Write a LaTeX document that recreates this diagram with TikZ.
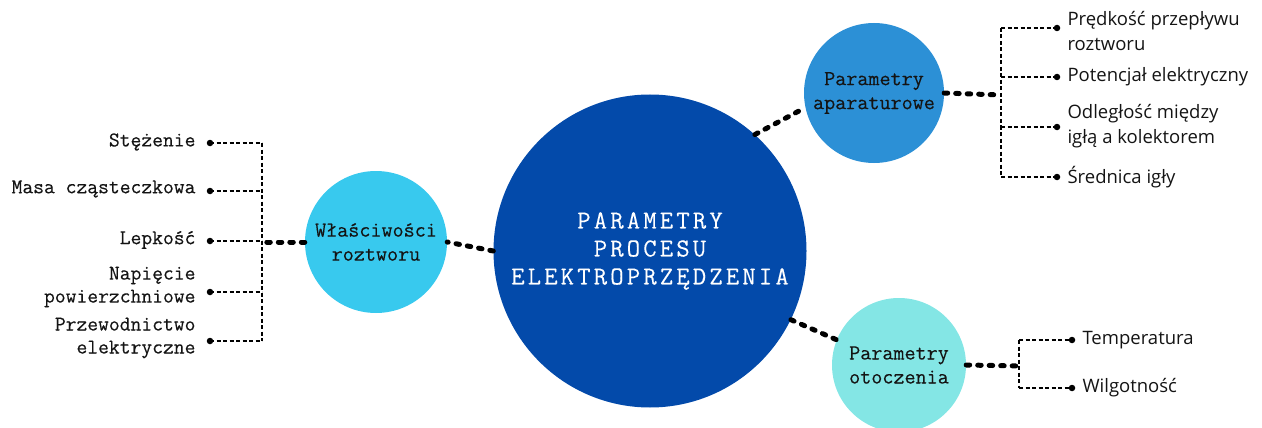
\documentclass[tikz,border=0pt]{standalone}
\usepackage{fontspec}
\setsansfont{Open Sans}
\setmonofont{Latin Modern Mono}[FakeBold=0.3]
\newfontfamily\titlefont{Latin Modern Mono}[LetterSpace=12,FakeBold=0.2]
\definecolor{mainblue}{RGB}{3,74,170}
\definecolor{solcol}{RGB}{56,201,238}
\definecolor{appcol}{RGB}{44,144,214}
\definecolor{envcol}{RGB}{132,230,229}
\definecolor{ink}{RGB}{20,20,20}
\tikzset{
  hub/.style={circle, inner sep=0pt, align=center, text=ink,
    font=\ttfamily\fontsize{21.5}{24}\selectfont},
  bigdash/.style={line width=5pt, line cap=round, dash pattern=on 3.5pt off 8pt, black},
  thindot/.style={line width=2.4pt, dash pattern=on 4pt off 2.5pt, black},
  leafdot/.style={circle, fill=black, inner sep=0pt, minimum size=6.5pt},
  leftlab/.style={anchor=east, align=right, text=ink,
    font=\ttfamily\fontsize{21}{23}\selectfont},
  rightlab/.style={anchor=west, align=left, text=ink,
    font=\sffamily\fontsize{18.5}{25}\selectfont},
}
\begin{document}
\begin{tikzpicture}[x=1pt,y=-1pt]
\useasboundingbox (0,0) rectangle (1262,428);

% central and group circles
\node[hub, fill=mainblue, minimum size=313pt, text=white,
      font=\titlefont\fontsize{26}{28}\selectfont] (main) at (650,251)
  {PARAMETRY\\PROCESU\\ELEKTROPRZĘDZENIA};
\node[hub, fill=solcol, minimum size=142pt] (sol) at (376,242) {Właściwości\\roztworu};
\node[hub, fill=appcol, minimum size=140pt] (app) at (874,93) {Parametry\\aparaturowe};
\node[hub, fill=envcol, minimum size=134pt] (env) at (899,365) {Parametry\\otoczenia};

% links from the centre
\draw[bigdash] (main.west) -- (sol.east);
\draw[bigdash] (main.48) -- (app.192);
\draw[bigdash] (main.-26) -- (env.158);

% solution properties
\coordinate (lbus) at (262,242);
\coordinate (ltop) at (262,143);
\coordinate (lbot) at (262,341);
\draw[bigdash] (sol.west) -- (lbus);
\draw[thindot] (ltop) -- (lbot);
\node[leafdot] (l1) at (210,143) {};
\node[leafdot] (l2) at (210,191) {};
\node[leafdot] (l3) at (210,241) {};
\node[leafdot] (l4) at (210,292) {};
\node[leafdot] (l5) at (210,341) {};
\foreach \i in {1,...,5} \draw[thindot] (l\i.center) -- (l\i -| lbus);
\node[leftlab] (t1) at (199,142) {Stężenie};
\node[leftlab] (t2) at (199,189) {Masa cząsteczkowa};
\node[leftlab] (t3) at (199,240) {Lepkość};
\node[leftlab] (t4) at (199,287) {Napięcie\\powierzchniowe};
\node[leftlab] (t5) at (199,338) {Przewodnictwo\\elektryczne};

% apparatus parameters
\coordinate (abus) at (1001,95);
\coordinate (atop) at (1001,28);
\coordinate (abot) at (1001,177);
\draw[bigdash] (app.east) -- (abus);
\draw[thindot] (atop) -- (abot);
\node[leafdot] (a1) at (1057,28) {};
\node[leafdot] (a2) at (1057,77) {};
\node[leafdot] (a3) at (1057,127) {};
\node[leafdot] (a4) at (1057,177) {};
\foreach \i in {1,...,4} \draw[thindot] (a\i -| abus) -- (a\i.center);
\node[rightlab] (r1) at (1064,31) {Prędkość przepływu\\roztworu};
\node[rightlab] (r2) at (1064,77) {Potencjał elektryczny};
\node[rightlab] (r3) at (1064,126) {Odległość między\\igłą a kolektorem};
\node[rightlab] (r4) at (1064,177) {Średnica igły};

% ambient parameters
\coordinate (ebus) at (1019,366);
\coordinate (etop) at (1019,340);
\coordinate (ebot) at (1019,388);
\draw[bigdash] (env.east) -- (ebus);
\draw[thindot] (etop) -- (ebot);
\node[leafdot] (e1) at (1072,340) {};
\node[leafdot] (e2) at (1072,388) {};
\foreach \i in {1,2} \draw[thindot] (e\i -| ebus) -- (e\i.center);
\node[rightlab] (s1) at (1079,340) {Temperatura};
\node[rightlab] (s2) at (1079,388) {Wilgotność};
\end{tikzpicture}
\end{document}
